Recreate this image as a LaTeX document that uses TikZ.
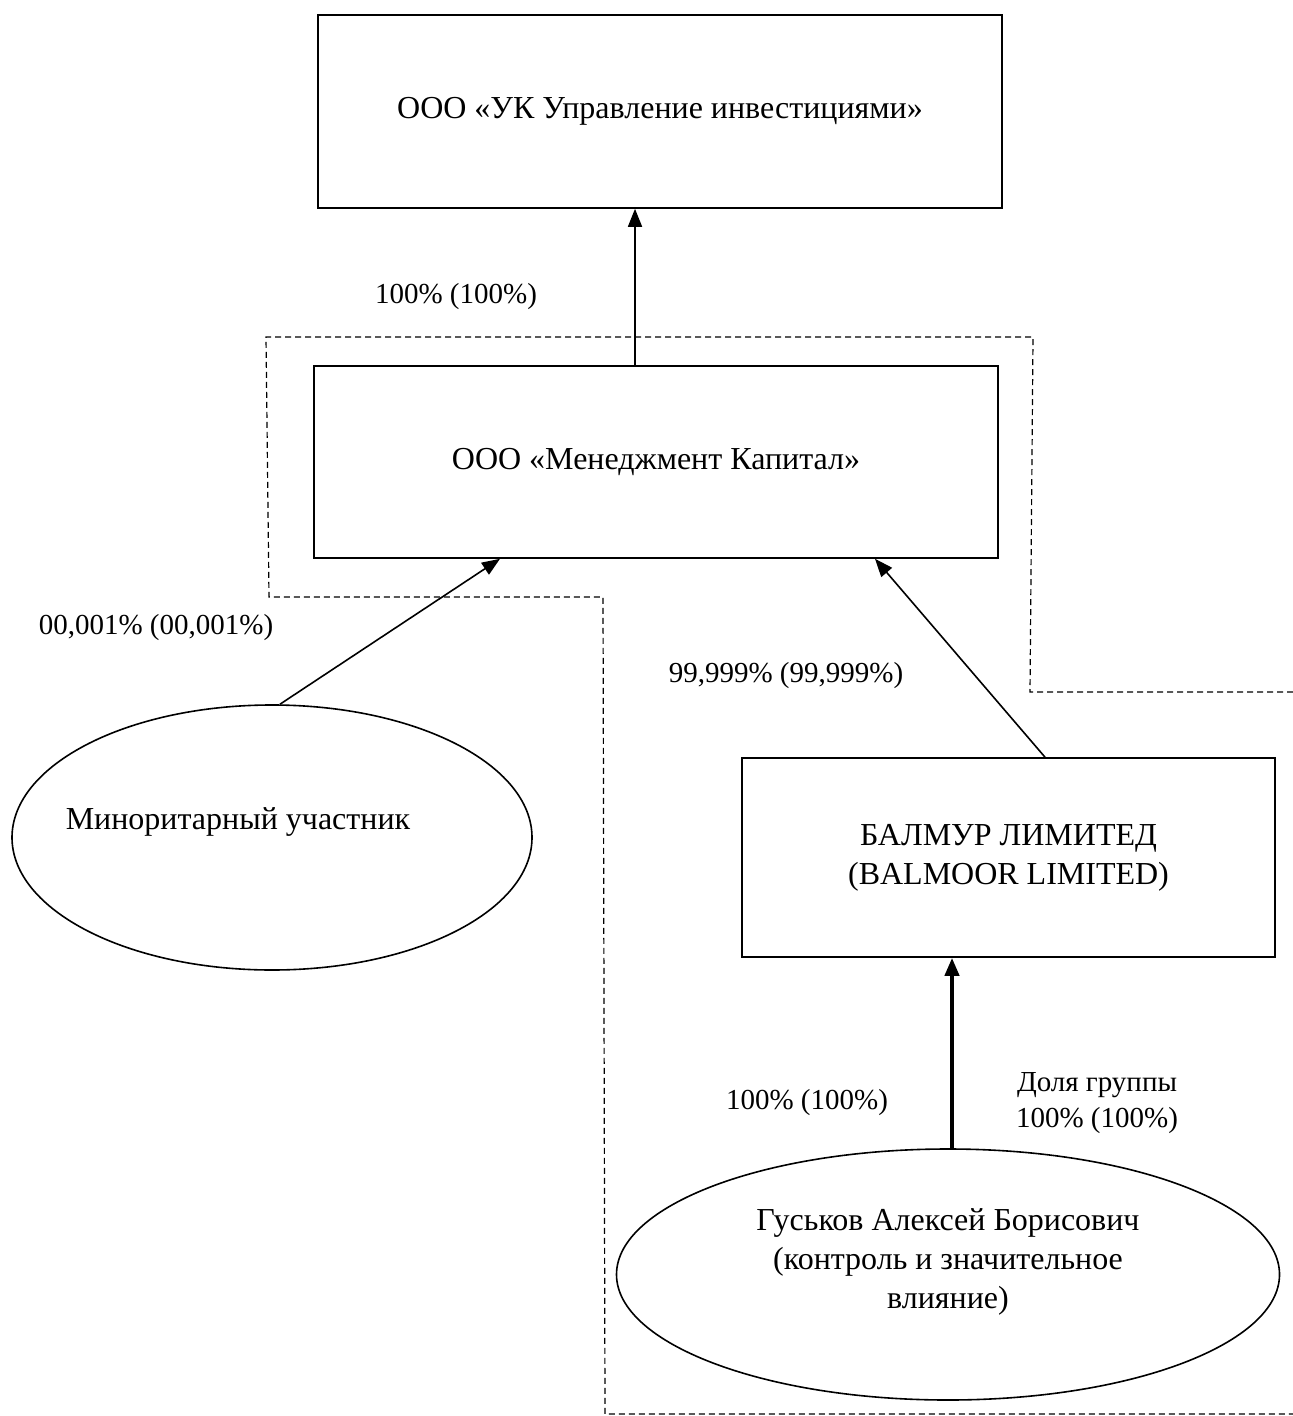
\documentclass[tikz,border=0pt]{standalone}
\usepackage{fontspec}
\setmainfont{Liberation Serif}
\usepackage{tikz}
\usetikzlibrary{arrows.meta,shapes.geometric}
\newcommand{\lblfont}{\fontsize{14.5}{18}\selectfont}
\newcommand{\boxfont}{\fontsize{16}{19.5}\selectfont}

\begin{document}
\begin{tikzpicture}[x=0.5pt, y=-0.5pt, >={Triangle[width=7pt,length=9pt]},
                    line width=0.8pt]
\tikzstyle{every node}=[font=\lblfont]
\tikzstyle{every label}=[font=\boxfont, align=center, inner sep=0pt]
\tikzstyle{firm}=[rectangle, draw, align=center, inner sep=0pt, font=\boxfont]
\tikzstyle{person}=[ellipse, draw, inner sep=0pt]
\tikzstyle{share}=[align=center, inner sep=0pt]
\useasboundingbox (0,0) rectangle (1293,1416);

\node [firm, minimum width=342pt, minimum height=96.5pt] (uk) at (660,111.5)
      {\raisebox{-3pt}{ООО «УК Управление инвестициями»}};
\node [firm, minimum width=342pt, minimum height=96pt] (mk) at (656,462)
      {\raisebox{-3pt}{ООО «Менеджмент Капитал»}};
\node [firm, minimum width=266.5pt, minimum height=99.5pt] (bal) at (1008.5,857.5) {БАЛМУР ЛИМИТЕД\\(BALMOOR LIMITED)};
\node [person, minimum width=260pt, minimum height=132.5pt,
       label={[xshift=-17pt,yshift=8pt]center:Миноритарный участник}] (minor) at (272,837.5) {};
\node [person, minimum width=331.5pt, minimum height=125.5pt,
       label={[yshift=6.5pt]center:Гуськов Алексей Борисович\\(контроль и значительное\\влияние)}] (gus) at (948,1274.5) {};

% group border
\draw [line width=0.6pt, dash pattern=on 3pt off 2pt] (1293,692) -- (1030,692) -- (1033,337) -- (266,337)
      -- (269,597) -- (603,597) -- (605,1414) -- (1293,1414);

\draw [->] ([xshift=-10.5pt]mk.north) -- ([xshift=-12.5pt]uk.south);
\draw [->] ([xshift=4pt]minor.north) -- ([xshift=-78pt]mk.south);
\draw [->] ([xshift=18.25pt]bal.north) -- ([xshift=109.5pt]mk.south);
\draw [->, line width=2pt] ([xshift=2pt]gus.north) -- ([xshift=-28.25pt]bal.south);

\node [share] (s1) at (456,297) {100\% (100\%)};
\node [share] (s2) at (156,628) {00,001\% (00,001\%)};
\node [share] (s3) at (786,676) {99,999\% (99,999\%)};
\node [share] (s4) at (807,1103) {100\% (100\%)};
\node [share] (s5) at (1097,1103) {Доля группы\\100\% (100\%)};
\end{tikzpicture}
\end{document}
